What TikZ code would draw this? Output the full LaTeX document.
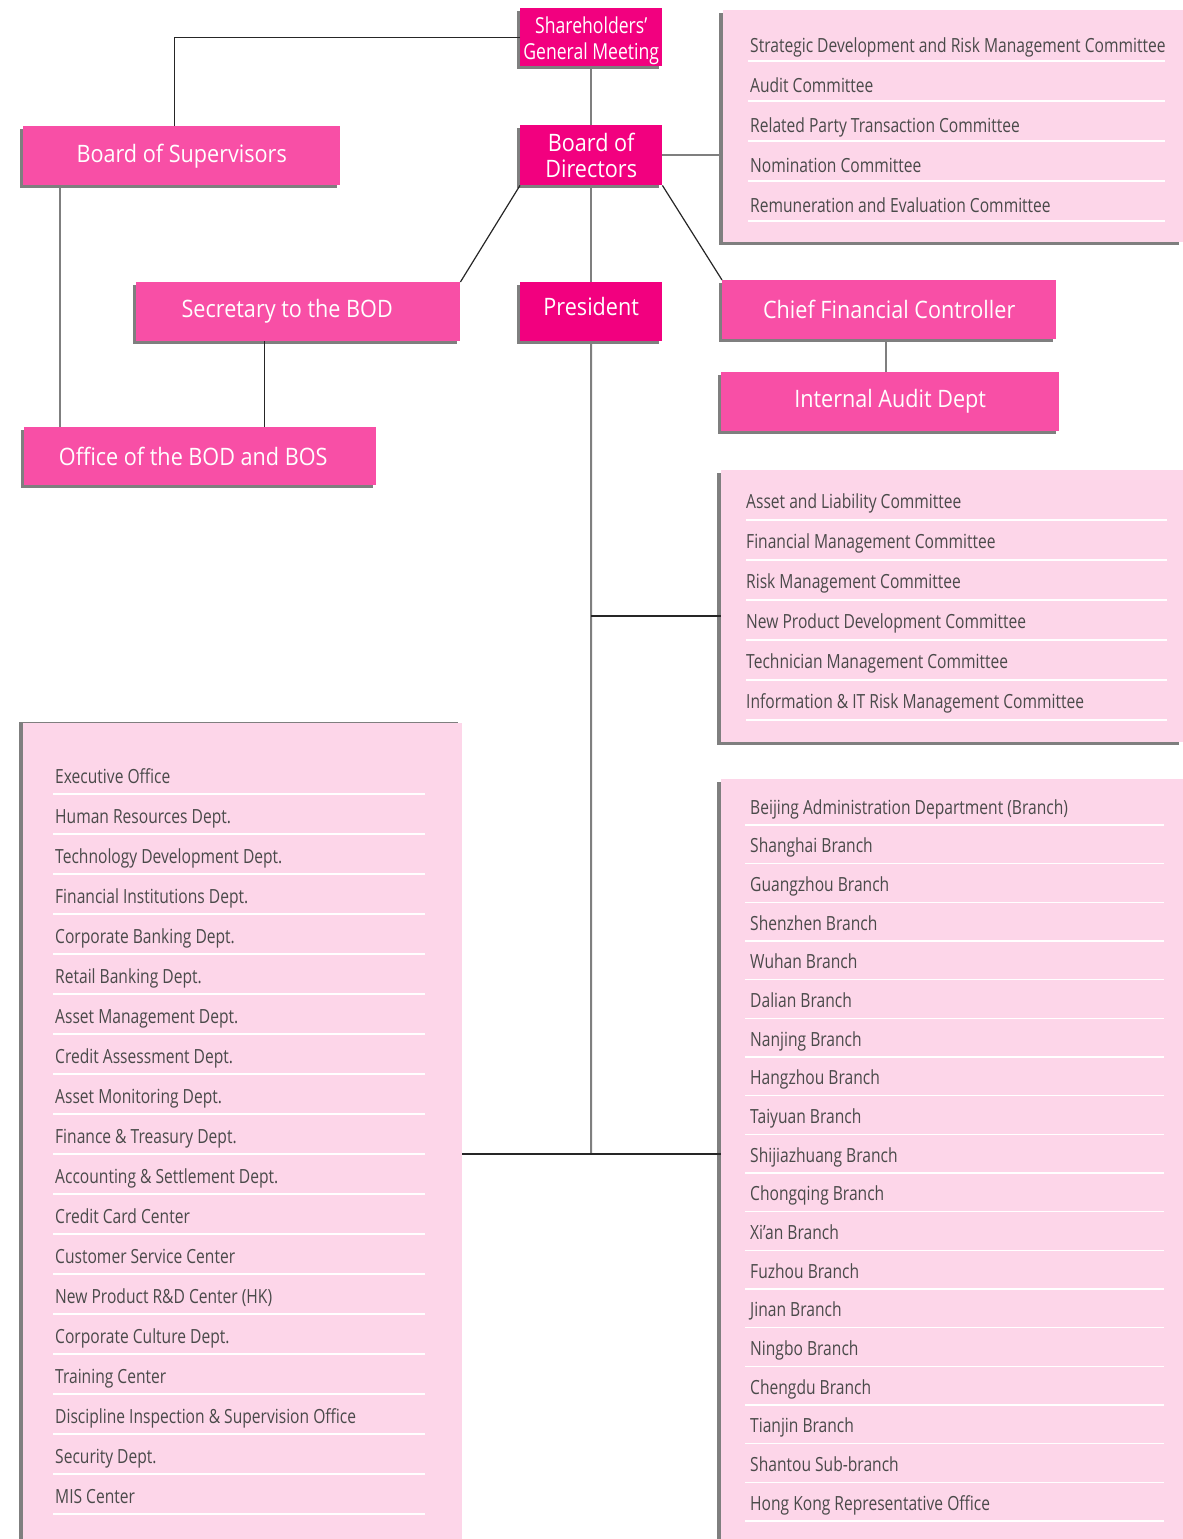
\documentclass[tikz,border=0pt]{standalone}
\usepackage{fontspec}
\setmainfont{Open Sans}
\newfontfamily\headfont{Open Sans}[FakeStretch=0.9]
\newfontfamily\listfont{Open Sans}[FakeStretch=0.8]
\usetikzlibrary{shadows}
\definecolor{hotpink}{HTML}{F2007F}
\definecolor{softpink}{HTML}{F84FA6}
\definecolor{palepink}{HTML}{FDD6E9}
\definecolor{shadegray}{HTML}{7F7F7F}
\definecolor{itemgray}{HTML}{4A4A4A}
\tikzstyle{unit} = [rectangle, anchor=north west, inner sep=0pt, text=white, align=center, font=\headfont\fontsize{24}{26}\selectfont, drop shadow={fill=shadegray, opacity=1, shadow xshift=-3pt, shadow yshift=-3pt}]
\tikzstyle{topunit} = [unit, fill=hotpink]
\tikzstyle{subunit} = [unit, fill=softpink]
\tikzstyle{listbox} = [rectangle, anchor=north west, inner sep=0pt, fill=palepink, drop shadow={fill=shadegray, opacity=1, shadow xshift=-4pt, shadow yshift=-3pt}]
\tikzstyle{item} = [anchor=base west, inner sep=0pt, text=itemgray, font=\listfont\fontsize{19.5}{22}\selectfont]
\tikzstyle{sep} = [draw=white, line width=1.2pt]
\tikzstyle{gline} = [draw=shadegray, line width=2pt]
\tikzstyle{bline} = [draw=black!85, line width=1.2pt]

\begin{document}
\begin{tikzpicture}[x=1pt, y=-1pt]
\useasboundingbox (0,0) rectangle (1183,1539);

\node at (520, 8) (sgm) [topunit, minimum width=142pt, minimum height=58pt, font=\listfont\fontsize{22}{26}\selectfont] {\rule{0pt}{24pt}Shareholders’\\General Meeting};
\node at (520, 125) (bod) [topunit, minimum width=142pt, minimum height=60pt] {Board of\\Directors};
\node at (520, 282) (pres) [topunit, minimum width=142pt, minimum height=59pt, text depth=10pt] {President};
\node at (23, 126) (bos) [subunit, minimum width=317pt, minimum height=59pt] {Board of Supervisors};
\node at (136, 282) (sec) [subunit, minimum width=324pt, minimum height=59pt] {Secretary to the BOD\hspace*{22pt}};
\node at (24, 427) (obb) [subunit, minimum width=352pt, minimum height=58pt] {Office of the BOD and BOS\hspace*{14pt}};
\node at (722, 280) (cfc) [subunit, minimum width=334pt, minimum height=59pt] {Chief Financial Controller};
\node at (721, 372) (iad) [subunit, minimum width=338pt, minimum height=59pt] {Internal Audit Dept};

\node at (723, 10) (bdc) [listbox, minimum width=460pt, minimum height=232pt] {};
\node at (721, 470) (prc) [listbox, minimum width=462pt, minimum height=272pt] {};
\node at (23, 723) (dept) [listbox, minimum width=439pt, minimum height=830pt, drop shadow={fill=shadegray, opacity=1, shadow xshift=-4pt, shadow yshift=1pt}] {};
\node at (721, 779) (br) [listbox, minimum width=462pt, minimum height=770pt] {};

\foreach \name [count=\i from 0] in {Strategic Development and Risk Management Committee, Audit Committee, Related Party Transaction Committee, Nomination Committee, Remuneration and Evaluation Committee}
{
  \node at (750, {52+40*\i}) (bdc\i) [item] {\name};
  \draw [sep] (748, {61+40*\i}) -- (1165, {61+40*\i});
}

\foreach \name [count=\i from 0] in {Asset and Liability Committee, Financial Management Committee, Risk Management Committee, New Product Development Committee, Technician Management Committee, Information \& IT Risk Management Committee}
{
  \node at (746, {508+40*\i}) (prc\i) [item] {\name};
  \draw [sep] (746, {520+40*\i}) -- (1167, {520+40*\i});
}

\foreach \name [count=\i from 0] in {Executive Office, Human Resources Dept., Technology Development Dept., Financial Institutions Dept., Corporate Banking Dept., Retail Banking Dept., Asset Management Dept., Credit Assessment Dept., Asset Monitoring Dept., Finance \& Treasury Dept., Accounting \& Settlement Dept., Credit Card Center, Customer Service Center, New Product R\&D Center (HK), Corporate Culture Dept., Training Center, Discipline Inspection \& Supervision Office, Security Dept., MIS Center}
{
  \node at (55, {783+40*\i}) (dept\i) [item] {\name};
  \draw [sep] (53, {794+40*\i}) -- (425, {794+40*\i});
}

\foreach \name [count=\i from 0] in {Beijing Administration Department (Branch), Shanghai Branch, Guangzhou Branch, Shenzhen Branch, Wuhan Branch, Dalian Branch, Nanjing Branch, Hangzhou Branch, Taiyuan Branch, Shijiazhuang Branch, Chongqing Branch, Xi’an Branch, Fuzhou Branch, Jinan Branch, Ningbo Branch, Chengdu Branch, Tianjin Branch, Shantou Sub-branch, Hong Kong Representative Office}
{
  \node at (750, {814+38.67*\i}) (br\i) [item] {\name};
  \draw [sep] (745, {825+38.67*\i}) -- (1164, {825+38.67*\i});
}

\coordinate (tap) at (591, 616);
\coordinate (hub) at (591, 1154);

\draw [gline] (sgm) -- (bod);
\draw [bline] (sgm.west) -| ([xshift=-7pt]bos.north);
\draw [gline] (bod.east) -- (bod.east -| bdc.west);
\draw [gline] (bod) -- (pres);
\draw [bline] (bod.south west) -- (sec.north east);
\draw [bline] (bod.south east) -- (cfc.north west);
\draw [gline] ([xshift=37pt]bos.south west) -- ([xshift=37pt]bos.south west |- obb.north);
\draw [bline] ([xshift=-34pt]sec.south) -- ([xshift=-34pt]sec.south |- obb.north);
\draw [gline] ([xshift=-3pt]cfc.south) -- ([xshift=-3pt]cfc.south |- iad.north);
\draw [gline] (pres.south) -- (hub);
\draw [bline] (tap) -- (tap -| prc.west);
\draw [bline] (hub -| dept.east) -- (hub -| br.west);

\end{tikzpicture}
\end{document}
